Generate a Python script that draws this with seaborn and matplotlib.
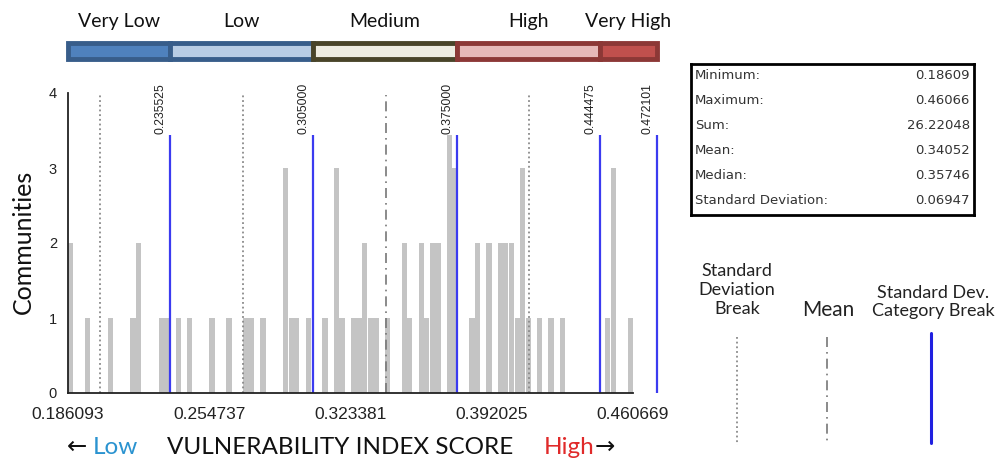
import numpy as np
import pandas as pd
import seaborn as sns
import matplotlib.pyplot as plt
from matplotlib.lines import Line2D

# vulnerability index score of each community
scores = [0.1867, 0.1867, 0.1947, 0.2059, 0.2166, 0.2197, 0.2197, 0.2311, 0.2336,
          0.2392, 0.2443, 0.2554, 0.2639, 0.2722, 0.2749, 0.2805, 0.2914, 0.2914,
          0.2914, 0.2943, 0.2970, 0.3031, 0.3109, 0.3162, 0.3162, 0.3162, 0.3186,
          0.3240, 0.3269, 0.3300, 0.3300, 0.3325, 0.3351, 0.3412, 0.3495, 0.3495,
          0.3522, 0.3575, 0.3575, 0.3604, 0.3631, 0.3631, 0.3658, 0.3658, 0.3721,
          0.3721, 0.3721, 0.3721, 0.3740, 0.3740, 0.3740, 0.3825, 0.3850, 0.3850,
          0.3906, 0.3906, 0.3961, 0.3961, 0.3988, 0.3988, 0.4015, 0.4015, 0.4044,
          0.4076, 0.4076, 0.4076, 0.4100, 0.4158, 0.4212, 0.4265, 0.4479, 0.4513,
          0.4513, 0.4513, 0.4596]

x_ticks = [0.186093, 0.254737, 0.323381, 0.392025, 0.460669]
cat_breaks = [0.186093, 0.235525, 0.305000, 0.375000, 0.444475, 0.472101]
cat_names = ['Very Low', 'Low', 'Medium', 'High', 'Very High']
cat_fill = ['#4f81bd', '#b8cce4', '#eeece1', '#e6b9b8', '#c0504d']
cat_edge = ['#385d8a', '#385d8a', '#494429', '#8c3836', '#8c3836']
sd_breaks = [0.20158, 0.27105, 0.40999]
mean_val = 0.34052

stat_names = ['Minimum:', 'Maximum:', 'Sum:', 'Mean:', 'Median:', 'Standard Deviation:']
stat_values = ['0.18609', '0.46066', '26.22048', '0.34052', '0.35746', '0.06947']

W, H = 999, 470
CAL = ['Lato', 'DejaVu Sans']

sns.set_style('white')
plt.rcParams['font.family'] = ['Liberation Sans', 'DejaVu Sans']

fig = plt.figure(figsize=(W / 100, H / 100), dpi=100)

# ---- histogram ----
ax = fig.add_axes([68 / W, 1 - 393 / H, 565 / W, 300 / H])
sns.histplot(x=scores, bins=100, binrange=(x_ticks[0], x_ticks[-1]),
             color='#c4c4c4', alpha=1, linewidth=0, shrink=0.92, ax=ax)
ax.set_xlim(x_ticks[0], x_ticks[-1])
ax.set_ylim(0, 4)
ax.set_xticks(x_ticks)
ax.set_xticklabels(['%.6f' % t for t in x_ticks])
ax.set_yticks([0, 1, 2, 3, 4])
ax.set_xlabel('')
ax.set_ylabel('')
for s in ['top', 'right']:
    ax.spines[s].set_visible(False)
for s in ['left', 'bottom']:
    ax.spines[s].set_color('#222222')
    ax.spines[s].set_linewidth(1.3)
ax.tick_params(axis='x', direction='out', length=8, width=1.3, labelsize=12.5,
               pad=2, colors='#222222')
ax.tick_params(axis='y', direction='inout', length=10, width=1.3, labelsize=10.5,
               pad=3, colors='#222222')

for b in sd_breaks:
    ax.plot([b, b], [0, 3.98], color='#8a8a8a', lw=1.3, ls=(0, (1, 1.6)))
ax.plot([mean_val, mean_val], [0, 3.98], color='#777777', lw=1.2,
        ls=(0, (6, 3, 1, 3)))

for b in cat_breaks[1:]:
    ax.plot([b, b], [0, 3.44], color='#3b3bf0', lw=1.6, clip_on=False,
            solid_capstyle='butt')
    ax.annotate('%.6f' % b, xy=(b, 3.45), xytext=(-2.5, 0),
                textcoords='offset points', rotation=90, ha='right', va='bottom',
                fontsize=8.8, color='#222222', annotation_clip=False,
                bbox=dict(fc='white', ec='none', pad=0.6))

fig.text(23 / W, 1 - 242 / H, 'Communities', rotation=90, ha='center',
         va='center', fontsize=18, family=CAL, color='#111111')

# ---- category colour strip ----
ax_top = fig.add_axes([68 / W, 1 - 62 / H, 565 / W, 22 / H])
ax_top.set_xlim(x_ticks[0], x_ticks[-1])
ax_top.set_ylim(0, 1)
ax_top.axis('off')
widths = np.diff(cat_breaks)
for i in range(len(cat_names)):
    ax_top.barh(0.5, widths[i], left=cat_breaks[i], height=0.72,
                color=cat_fill[i], edgecolor=cat_edge[i], lw=3.5, clip_on=False)
    ax_top.text(cat_breaks[i] + widths[i] / 2, 1.85, cat_names[i], ha='center',
                va='center', fontsize=14, family=CAL, color='#111111',
                clip_on=False)

# ---- statistics box ----
ax_st = fig.add_axes([691 / W, 1 - 215 / H, 283 / W, 151 / H])
ax_st.set_xticks([])
ax_st.set_yticks([])
for s in ax_st.spines.values():
    s.set_color('black')
    s.set_linewidth(2)
for i in range(len(stat_names)):
    yy = 1 - (i + 0.5) / 6 + 0.01
    ax_st.text(0.014, yy, stat_names[i], transform=ax_st.transAxes, ha='left',
               va='center', fontsize=9.5, family='DejaVu Sans', color='#333333')
    ax_st.text(0.985, yy, stat_values[i], transform=ax_st.transAxes, ha='right',
               va='center', fontsize=9.5, family='DejaVu Sans', color='#333333')

# ---- line legend ----
fig.text(737 / W, 1 - 290 / H, 'Standard\nDeviation\nBreak', ha='center',
         va='center', fontsize=13, family=CAL, linespacing=1.2, color='#222222')
fig.text(828 / W, 1 - 310 / H, 'Mean', ha='center', va='center', fontsize=15,
         family=CAL, color='#222222')
fig.text(933 / W, 1 - 302 / H, 'Standard Dev.\nCategory Break', ha='center',
         va='center', fontsize=13, family=CAL, linespacing=1.2, color='#222222')
fig.add_artist(Line2D([737 / W, 737 / W], [1 - 337 / H, 1 - 445 / H],
                      color='#8a8a8a', lw=1.3, ls=(0, (1, 1.6))))
fig.add_artist(Line2D([827 / W, 827 / W], [1 - 337 / H, 1 - 445 / H],
                      color='#777777', lw=1.2, ls=(0, (6, 3, 1, 3))))
fig.add_artist(Line2D([931 / W, 931 / W], [1 - 333 / H, 1 - 443 / H],
                      color='#2020e0', lw=2.2))

# ---- bottom axis title ----
ty = 1 - 447 / H
fig.text(67 / W, ty, '\u2190', ha='left', va='center', fontsize=17.5,
         family=['DejaVu Sans'], color='#111111')
fig.text(93 / W, ty, 'Low', ha='left', va='center', fontsize=17.5, family=CAL,
         color='#2a93d0')
fig.text(167 / W, ty, 'VULNERABILITY INDEX SCORE', ha='left', va='center',
         fontsize=17.5, family=CAL, color='#111111')
fig.text(594 / W, ty, 'High', ha='right', va='center', fontsize=17.5, family=CAL,
         color='#e02a2a')
fig.text(595 / W, ty, '\u2192', ha='left', va='center', fontsize=17.5,
         family=['DejaVu Sans'], color='#111111')

plt.savefig('out.png', dpi=100, facecolor='white')
plt.close()
